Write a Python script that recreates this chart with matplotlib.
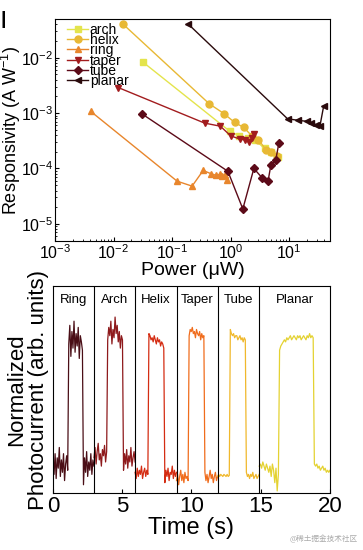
"""Responsivity vs power and normalized photocurrent switching traces."""

import numpy as np
import matplotlib
matplotlib.use("Agg")
import matplotlib.pyplot as plt
from matplotlib.ticker import LogLocator, NullFormatter

plt.rcParams["font.family"] = ["Liberation Sans", "DejaVu Sans"]
plt.rcParams["mathtext.fontset"] = "custom"
plt.rcParams["mathtext.rm"] = "Liberation Sans"
plt.rcParams["mathtext.it"] = "Liberation Sans:italic"
plt.rcParams["mathtext.bf"] = "Liberation Sans:bold"

# ---- top panel: responsivity (A/W) vs power (uW) ----
arch_p = [0.032, 0.97, 1.4, 2.0, 2.6, 3.8, 5.0, 6.5]
arch_r = [8.3e-3, 4.7e-4, 3.9e-4, 3.5e-4, 3.3e-4, 2.3e-4, 2.0e-4, 1.6e-4]
helix_p = [0.0147, 0.43, 0.77, 1.17, 1.68, 2.3, 3.0, 4.0, 5.0, 6.2]
helix_r = [0.040, 1.48e-3, 9.8e-4, 6.8e-4, 5.5e-4, 3.9e-4, 3.3e-4, 2.2e-4, 2.0e-4, 1.7e-4]
ring_p = [0.0041, 0.122, 0.22, 0.34, 0.47, 0.57, 0.65, 0.72, 0.80, 0.88]
ring_r = [1.07e-3, 5.9e-5, 4.8e-5, 9.2e-5, 8.0e-5, 7.5e-5, 7.8e-5, 7.3e-5, 7.7e-5, 6.3e-5]
taper_p = [0.012, 0.36, 0.67, 1.0, 1.43, 1.74, 2.07, 2.3, 2.5]
taper_r = [2.9e-3, 6.6e-4, 5.8e-4, 3.9e-4, 3.4e-4, 3.3e-4, 3.0e-4, 3.5e-4, 4.2e-4]
tube_p = [0.031, 0.90, 1.62, 2.5, 3.45, 4.37, 4.9, 5.9, 6.7]
tube_r = [9.6e-4, 8.9e-5, 1.86e-5, 1.0e-4, 6.8e-5, 5.9e-5, 1.18e-4, 1.4e-4, 2.9e-4]
planar_p = [0.187, 9.4, 14.4, 20, 24, 28.8, 33.6, 39.0]
planar_r = [0.041, 7.9e-4, 7.4e-4, 7.1e-4, 6.6e-4, 6.2e-4, 5.8e-4, 1.35e-3]

# ---- bottom panel: normalized photocurrent traces ----
seg_names = ["Ring", "Arch", "Helix", "Taper", "Tube", "Planar"]
seg_edges = [0, 2.96, 5.93, 8.92, 11.88, 14.89, 20]

ring_i = [0.15, 0.09, 0.19, 0.07, 0.17, 0.12, 0.22, 0.08, 0.16, 0.10, 0.19, 0.06, 0.14, 0.18, 0.11,
          0.72, 0.81, 0.66, 0.78, 0.70, 0.83, 0.68, 0.77, 0.71, 0.80, 0.65, 0.76, 0.73, 0.69,
          0.04, 0.17, 0.10, 0.20, 0.08, 0.15, 0.11, 0.19, 0.09, 0.16, 0.13]
arch_i = [0.17, 0.22, 0.14, 0.20, 0.24, 0.16, 0.19, 0.13, 0.21, 0.18, 0.23, 0.15, 0.20,
          0.74, 0.80, 0.76, 0.83, 0.72, 0.79, 0.75, 0.85, 0.77, 0.81, 0.73, 0.78, 0.70, 0.76, 0.74,
          0.11, 0.19, 0.14, 0.21, 0.12, 0.18, 0.15, 0.22, 0.13, 0.17, 0.20, 0.15]
helix_i = [0.10, 0.07, 0.12, 0.08, 0.11, 0.09, 0.13, 0.07, 0.10, 0.12, 0.08, 0.11, 0.09,
           0.77, 0.76, 0.74, 0.75, 0.73, 0.76, 0.74, 0.72, 0.75, 0.73, 0.74, 0.71, 0.73, 0.72, 0.70,
           0.05, 0.11, 0.08, 0.12, 0.06, 0.10, 0.09, 0.13, 0.07, 0.11, 0.08, 0.10]
taper_i = [0.06, 0.09, 0.04, 0.08, 0.11, 0.06, 0.09, 0.05, 0.10, 0.07, 0.08, 0.06,
           0.76, 0.79, 0.78, 0.80, 0.77, 0.78, 0.75, 0.79, 0.77, 0.76, 0.78, 0.74, 0.77, 0.75, 0.76,
           0.10, 0.06, 0.09, 0.05, 0.08, 0.11, 0.07, 0.09, 0.05, 0.08, 0.10, 0.06, 0.08]
tube_i = [0.08, 0.09, 0.08, 0.09, 0.085, 0.08, 0.09, 0.085, 0.08, 0.09, 0.08, 0.085,
          0.79, 0.77, 0.76, 0.77, 0.75, 0.76, 0.76, 0.74, 0.75, 0.76, 0.74, 0.75, 0.73, 0.75, 0.74,
          0.10, 0.08, 0.09, 0.07, 0.09, 0.08, 0.10, 0.07, 0.08, 0.09, 0.07, 0.08, 0.09]
planar_i = [0.13, 0.14, 0.12, 0.15, 0.13, 0.11, 0.14, 0.12, 0.10, 0.13, 0.08, 0.14, 0.11, 0.05, 0.12, 0.01, 0.09,
            0.69, 0.71, 0.72, 0.73, 0.74, 0.73, 0.75, 0.74, 0.75, 0.76, 0.74, 0.75, 0.76, 0.75,
            0.74, 0.76, 0.75, 0.76, 0.74, 0.75, 0.76, 0.75, 0.74, 0.76, 0.75, 0.77, 0.75, 0.76, 0.75,
            0.14, 0.13, 0.14, 0.12, 0.13, 0.11, 0.12, 0.13, 0.11, 0.12, 0.10, 0.11, 0.10, 0.11]


def main() -> None:
    fig = plt.figure(figsize=(3.63, 5.5), dpi=100)

    # top panel
    ax1 = fig.add_axes([0.1515, 0.5618, 0.7576, 0.4036])
    top_series = [
        ("arch", arch_p, arch_r, "s", "#e4e44c"),
        ("helix", helix_p, helix_r, "o", "#e8b834"),
        ("ring", ring_p, ring_r, "^", "#e8862c"),
        ("taper", taper_p, taper_r, "v", "#a21c1e"),
        ("tube", tube_p, tube_r, "D", "#5c0a18"),
        ("planar", planar_p, planar_r, "<", "#2a0a0c"),
    ]
    for name, p, r, m, c in top_series:
        ax1.plot(p, r, marker=m, color=c, lw=1.0, ms=5 if m != "D" else 4, label=name)
    ax1.set_xscale("log")
    ax1.set_yscale("log")
    ax1.set_xlim(1e-3, 50)
    ax1.set_ylim(4.9e-6, 0.05)
    ax1.xaxis.set_minor_locator(LogLocator(base=10, subs=np.arange(2, 10)))
    ax1.yaxis.set_minor_locator(LogLocator(base=10, subs=np.arange(2, 10)))
    ax1.xaxis.set_minor_formatter(NullFormatter())
    ax1.yaxis.set_minor_formatter(NullFormatter())
    ax1.tick_params(which="both", direction="in", labelsize=11.5, pad=1.5)
    ax1.tick_params(which="major", length=3)
    ax1.tick_params(which="minor", length=1.5)
    ax1.set_xlabel("Power (μW)", fontsize=14, labelpad=0)
    ax1.set_ylabel("Responsivity (A W$^{-1}$)", fontsize=13)
    ax1.yaxis.set_label_coords(-0.115, 0.5)
    ax1.legend(loc="upper left", bbox_to_anchor=(0.01, 1.027), frameon=False,
               fontsize=10, labelspacing=-0.27, handlelength=1.5,
               handletextpad=0.1, borderpad=0.2)

    # bottom panel
    ax2 = fig.add_axes([0.146, 0.1036, 0.763, 0.3764])
    trace_colors = ["#4a0e16", "#8e1a1c", "#d42c12", "#f06c1c", "#f0b82c", "#e4d232"]
    traces = [ring_i, arch_i, helix_i, taper_i, tube_i, planar_i]
    for k, vals in enumerate(traces):
        t = np.linspace(seg_edges[k], seg_edges[k + 1], len(vals))
        ax2.plot(t, vals, color=trace_colors[k], lw=0.9)
        mid = 0.5 * (seg_edges[k] + seg_edges[k + 1])
        ax2.text(mid, 0.93, seg_names[k], ha="center", va="center", fontsize=9.5)
    for edge in seg_edges[1:-1]:
        ax2.axvline(edge, color="black", lw=0.8)
    ax2.set_xlim(0, 20)
    ax2.set_ylim(0, 1)
    ax2.set_xticks([0, 5, 10, 15, 20])
    ax2.set_yticks([])
    ax2.tick_params(direction="in", length=3, labelsize=16, pad=2)
    ax2.set_xlabel("Time (s)", fontsize=17, labelpad=0)
    ax2.set_ylabel("Normalized\nPhotocurrent (arb. units)", fontsize=16,
                   linespacing=1.05)
    ax2.yaxis.set_label_coords(-0.015, 0.5)

    fig.text(0.0, 0.965, "|", fontsize=14, fontweight="bold", va="center")
    fig.text(0.985, 0.012, "@稀土掘金技术社区", fontsize=5.5, color="#aaaaaa",
             ha="right", va="bottom", family=["Noto Sans CJK SC", "DejaVu Sans"])

    fig.savefig("out.png", dpi=100)


if __name__ == "__main__":
    main()
